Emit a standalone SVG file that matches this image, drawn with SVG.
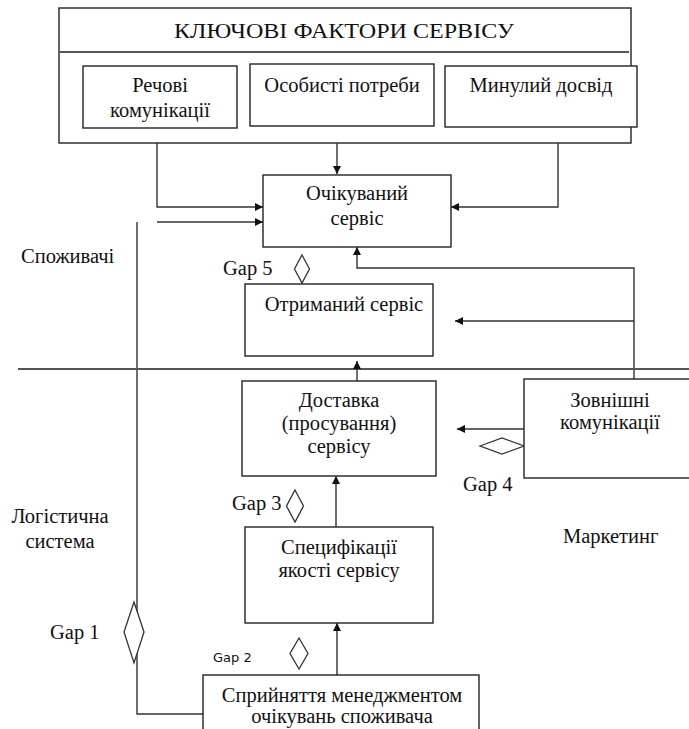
<svg xmlns="http://www.w3.org/2000/svg" width="689" height="729" viewBox="0 0 689 729">
<style>
.b{fill:#fff;stroke:#222;stroke-width:1.4}
.t{font-family:'Liberation Serif','DejaVu Serif',serif;font-size:20.5px;fill:#111;text-anchor:middle}
.l{font-family:'Liberation Serif','DejaVu Serif',serif;font-size:20.5px;fill:#111}
.s{font-family:'DejaVu Sans',sans-serif;font-size:13px;fill:#111}
.c{fill:none;stroke:#333;stroke-width:1.4}
.g{fill:none;stroke:#555;stroke-width:2}
.d{fill:#fff;stroke:#333;stroke-width:1.3}
</style>
<defs>
<marker id="a" viewBox="0 0 10 10" refX="10" refY="5" markerWidth="8" markerHeight="8" markerUnits="userSpaceOnUse" orient="auto">
<path d="M0,0 L10,5 L0,10 z" fill="#111"/>
</marker>
</defs>
<rect width="689" height="729" fill="#fff"/>
<g id="key-factors">
<rect class="b" x="59" y="8" width="572" height="135"/>
<line class="g" x1="60" y1="52" x2="629" y2="52"/>
<text class="t" x="344" y="38" font-family="Liberation Serif, serif" font-size="23.5" textLength="340" lengthAdjust="spacingAndGlyphs">КЛЮЧОВІ ФАКТОРИ СЕРВІСУ</text>
</g>
<g id="verbal">
<rect class="b" x="83" y="66" width="154" height="62"/>
<text class="t" x="160" y="92" font-family="Liberation Serif, serif">Речові</text>
<text class="t" x="160" y="117" font-family="Liberation Serif, serif">комунікації</text>
</g>
<g id="personal">
<rect class="b" x="250" y="64" width="184" height="62"/>
<text class="t" x="342" y="92" font-family="Liberation Serif, serif">Особисті потреби</text>
</g>
<g id="past">
<rect class="b" x="445" y="66" width="192" height="61"/>
<text class="t" x="541" y="92" font-family="Liberation Serif, serif">Минулий досвід</text>
</g>
<g id="connectors">
<polyline class="c" points="157,143 157,207 263,207" marker-end="url(#a)"/>
<line class="c" x1="337" y1="143" x2="337" y2="174" marker-end="url(#a)"/>
<polyline class="c" points="558,143 558,207 451,207" marker-end="url(#a)"/>
<line class="c" x1="157" y1="222" x2="263" y2="222" marker-end="url(#a)"/>
<polyline class="c" points="137,222 137,714 203,714"/>
<polyline class="c" points="634,379 634,268 357,268 357,247" marker-end="url(#a)"/>
<line class="c" x1="634" y1="321" x2="455" y2="321" marker-end="url(#a)"/>
<line class="g" x1="18" y1="369" x2="689" y2="369"/>
<line class="c" x1="357" y1="381" x2="357" y2="361" marker-end="url(#a)"/>
<line class="c" x1="524" y1="429" x2="457" y2="429" marker-end="url(#a)"/>
<line class="c" x1="336" y1="527" x2="336" y2="476" marker-end="url(#a)"/>
<line class="c" x1="337" y1="675" x2="337" y2="623" marker-end="url(#a)"/>
<path class="d" d="M302,255 L309.5,269 L302,283 L294.5,269 z"/>
<path class="d" d="M480,446 L502,438 L524,446 L502,454 z"/>
<path class="d" d="M295,490 L303.5,506 L295,522 L286.5,506 z"/>
<path class="d" d="M299,638 L308,653.5 L299,669 L290,653.5 z"/>
<path class="d" d="M134,602 L144,632 L134,663 L124,632 z"/>
</g>
<g id="expected">
<rect class="b" x="263" y="175" width="188" height="72"/>
<text class="t" x="357" y="200" font-family="Liberation Serif, serif">Очікуваний</text>
<text class="t" x="357" y="225" font-family="Liberation Serif, serif">сервіс</text>
</g>
<g id="received">
<rect class="b" x="245" y="284" width="188" height="72"/>
<text class="t" x="344" y="311" font-family="Liberation Serif, serif">Отриманий сервіс</text>
</g>
<g id="delivery">
<rect class="b" x="242" y="381" width="194" height="95"/>
<text class="t" x="339" y="407" font-family="Liberation Serif, serif">Доставка</text>
<text class="t" x="339" y="430" font-family="Liberation Serif, serif">(просування)</text>
<text class="t" x="339" y="453" font-family="Liberation Serif, serif">сервісу</text>
</g>
<g id="external">
<rect class="b" x="524" y="379" width="175" height="99"/>
<text class="t" x="610" y="407" font-family="Liberation Serif, serif">Зовнішні</text>
<text class="t" x="610" y="429" font-family="Liberation Serif, serif">комунікації</text>
</g>
<g id="specs">
<rect class="b" x="245" y="527" width="188" height="96"/>
<text class="t" x="339" y="554" font-family="Liberation Serif, serif">Специфікації</text>
<text class="t" x="339" y="577" font-family="Liberation Serif, serif">якості сервісу</text>
</g>
<g id="perception">
<rect class="b" x="203" y="675" width="276" height="70"/>
<text class="t" x="342" y="702" font-family="Liberation Serif, serif">Сприйняття менеджментом</text>
<text class="t" x="342" y="723" font-family="Liberation Serif, serif">очікувань споживача</text>
</g>
<g id="labels">
<text class="l" x="21" y="263" font-family="Liberation Serif, serif">Споживачі</text>
<text class="l" x="223" y="275" font-family="Liberation Serif, serif">Gap 5</text>
<text class="l" x="463" y="491" font-family="Liberation Serif, serif">Gap 4</text>
<text class="t" x="60" y="523" font-family="Liberation Serif, serif">Логістична</text>
<text class="t" x="60" y="548" font-family="Liberation Serif, serif">система</text>
<text class="l" x="232" y="510" font-family="Liberation Serif, serif">Gap 3</text>
<text class="l" x="563" y="543" font-family="Liberation Serif, serif">Маркетинг</text>
<text class="l" x="50" y="639" font-family="Liberation Serif, serif">Gap 1</text>
<text class="s" x="213" y="662">Gap 2</text>
</g>
</svg>
